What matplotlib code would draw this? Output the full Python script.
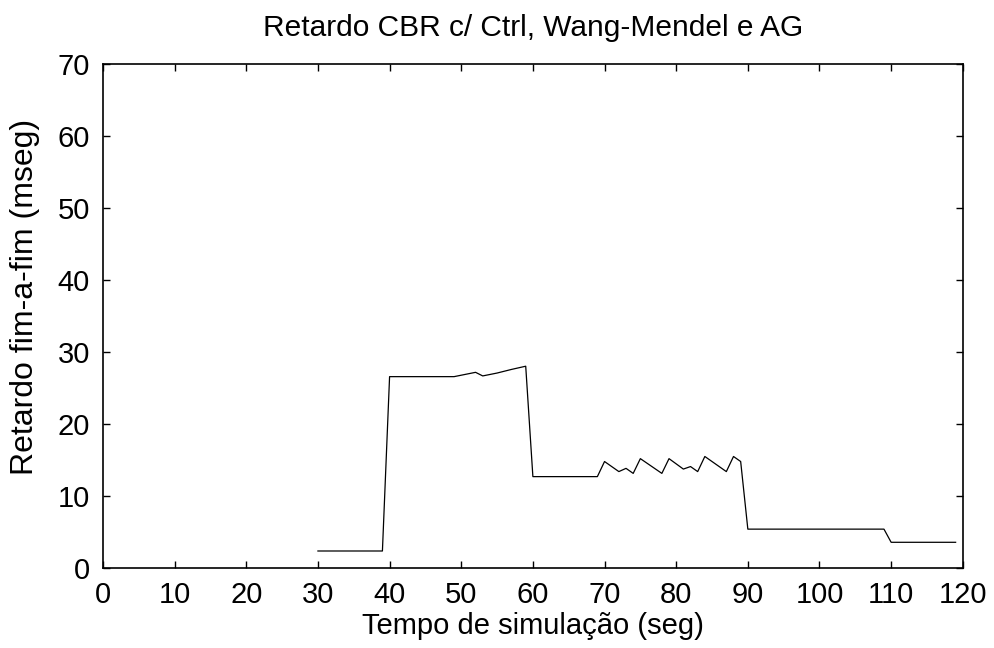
import matplotlib.pyplot as plt

plt.rcParams['font.family'] = ['Liberation Sans', 'DejaVu Sans']

# retardo fim-a-fim medido ao longo da simulacao
tempo = [30, 39, 40, 49, 52, 53, 55, 57, 59, 60, 69, 70, 72, 73, 74, 75, 78, 79, 81, 82,
         83, 84, 87, 88, 89, 90, 109, 110, 119]
retardo = [2.36, 2.36, 26.6, 26.6, 27.2, 26.7, 27.1, 27.6, 28.05, 12.7, 12.7, 14.8, 13.4,
           13.85, 13.15, 15.2, 13.15, 15.2, 13.75, 14.1, 13.4, 15.5, 13.4, 15.5, 14.8,
           5.4, 5.4, 3.57, 3.57]

xticks = list(range(0, 121, 10))
yticks = list(range(0, 71, 10))

fig = plt.figure(figsize=(9.94, 6.48), dpi=100)
ax = fig.add_axes([0.1036, 0.1235, 0.865, 0.777])

ax.plot(tempo, retardo, color='black', linewidth=0.9)

ax.set_xlim(0, 120)
ax.set_ylim(0, 70)
ax.set_xticks(xticks)
ax.set_yticks(yticks)
ax.tick_params(direction='in', length=5, width=1, labelsize=21, pad=9.5,
               top=True, right=True)
for s in ax.spines.values():
    s.set_linewidth(1.2)

ax.set_xlabel('Tempo de simulação (seg)', fontsize=21)
ax.xaxis.set_label_coords(0.5, -0.087)
ax.set_ylabel('Retardo fim-a-fim (mseg)', fontsize=23)
ax.yaxis.set_label_coords(-0.0733, 0.539)
ax.set_title('Retardo CBR c/ Ctrl, Wang-Mendel e AG', fontsize=21.5, pad=20.5)

fig.savefig('out.png', dpi=100)
